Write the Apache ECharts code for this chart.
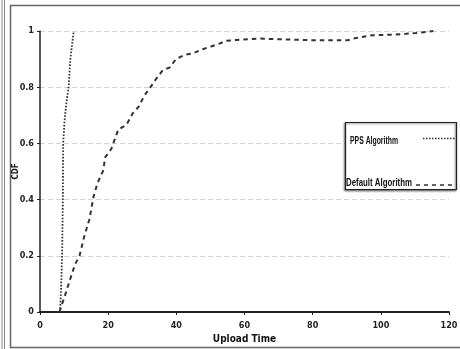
<!DOCTYPE html>
<html>
<head>
<meta charset="utf-8">
<script src="https://cdn.jsdelivr.net/npm/echarts@6/dist/echarts.min.js"></script>
<style>html,body{margin:0;padding:0;background:#fff;}#c{width:460px;height:349px;}</style>
</head>
<body>
<div id="c"></div>
<script>
var xTicks = [0, 20, 40, 60, 80, 100, 120];
var yTicks = [0, 0.2, 0.4, 0.6, 0.8, 1];
var ppsTime = [5.9, 6.2, 6.5, 6.7, 6.8, 7.2, 7.7, 8.4, 8.9, 9.9];
var ppsCdf  = [0, 0.09, 0.21, 0.40, 0.60, 0.68, 0.74, 0.80, 0.90, 1.0];
var defTime = [5.7, 7.2, 9.1, 10.3, 11.6, 13.0, 14.5, 15.7, 16.9, 18.6, 19.1, 20.9, 23.0, 25.3, 27.2, 28.9, 30.6, 32.4, 34.1, 36.0, 38.0, 39.9, 42.4, 44.8, 47.7, 50.2, 52.6, 54.6, 57.5, 64.4, 72.2, 80, 87.8, 90.2, 92.7, 97.5, 103, 107.4, 110.3, 114.2, 115.4];
var defCdf  = [0, 0.054, 0.126, 0.17, 0.20, 0.27, 0.33, 0.41, 0.46, 0.505, 0.55, 0.58, 0.65, 0.665, 0.707, 0.73, 0.77, 0.80, 0.83, 0.86, 0.87, 0.90, 0.915, 0.92, 0.935, 0.945, 0.955, 0.965, 0.968, 0.973, 0.97, 0.967, 0.967, 0.967, 0.975, 0.985, 0.987, 0.99, 0.993, 0.998, 1.0];
var seriesNames = ['PPS Algorithm', 'Default Algorithm'];

function pairs(xs, ys) { return xs.map(function (x, i) { return [x, ys[i]]; }); }

var narrow = "'Liberation Sans Narrow', 'DejaVu Sans Condensed', 'Liberation Sans', Arial";
var legendFont = "bold 11px 'Liberation Sans', Arial";
var cv = document.createElement('canvas').getContext('2d');
cv.font = legendFont;
function fitScale(text, target) { return target / cv.measureText(text).width; }

var ppsStyle = { color: '#333', width: 1.8, type: [1.6, 1.6] };
var defStyle = { color: '#333', width: 2, type: [4.5, 4] };

var chart = echarts.init(document.getElementById('c'));
var labelFont = { fontFamily: narrow, fontWeight: 'bold', fontSize: 9, color: '#222' };
chart.setOption({
  animation: false,
  backgroundColor: '#fff',
  grid: { left: 40, right: 11, top: 31, bottom: 37, outerBoundsMode: 'none', containLabel: false },
  xAxis: {
    type: 'value', min: xTicks[0], max: xTicks[xTicks.length - 1], interval: 20,
    name: 'Upload Time', nameLocation: 'middle', nameGap: 20,
    nameTextStyle: { fontFamily: narrow, fontWeight: 'bold', fontSize: 10, color: '#111' },
    axisLine: { lineStyle: { color: '#222', width: 2 } },
    axisTick: { show: true, length: 3, lineStyle: { color: '#222' } },
    axisLabel: Object.assign({ margin: 9 }, labelFont),
    splitLine: { show: false }
  },
  yAxis: {
    type: 'value', min: yTicks[0], max: yTicks[yTicks.length - 1], interval: 0.2,
    name: 'CDF', nameLocation: 'middle', nameGap: 20, nameRotate: 90, nameMoveOverlap: false,
    nameTextStyle: { fontFamily: narrow, fontWeight: 'bold', fontSize: 8, color: '#111' },
    axisLine: { show: true, lineStyle: { color: '#222', width: 1.5 } },
    axisTick: { show: true, length: 3, lineStyle: { color: '#222' } },
    axisLabel: Object.assign({ margin: 6 }, labelFont),
    splitLine: { show: true, lineStyle: { color: '#d4d4d4', type: [5, 3], width: 1 } }
  },
  legend: { show: false },
  graphic: [
    { type: 'rect', shape: { x: 10.5, y: 5.5, width: 460, height: 342 }, style: { fill: 'none', stroke: '#666', lineWidth: 1.5 }, silent: true, z: 0 },
    { type: 'line', shape: { x1: 2, y1: 0, x2: 2, y2: 349 }, style: { stroke: '#888', lineWidth: 1 }, silent: true },
    { type: 'line', shape: { x1: 4.5, y1: 0, x2: 4.5, y2: 349 }, style: { stroke: '#888', lineWidth: 1 }, silent: true },
    { type: 'rect', shape: { x: 345.5, y: 122.5, width: 111, height: 67 }, style: { fill: '#fff', stroke: '#222', lineWidth: 1.2, shadowBlur: 2, shadowOffsetX: -1, shadowOffsetY: 1, shadowColor: 'rgba(0,0,0,0.5)' }, silent: true, z: 5 },
    { type: 'text', x: 350, y: 141, scaleX: fitScale(seriesNames[0], 48), z: 6, silent: true,
      style: { text: seriesNames[0], font: legendFont, fill: '#111', verticalAlign: 'middle' } },
    { type: 'text', x: 346, y: 183, scaleX: fitScale(seriesNames[1], 66), z: 6, silent: true,
      style: { text: seriesNames[1], font: legendFont, fill: '#111', verticalAlign: 'middle' } },
    { type: 'line', shape: { x1: 423, y1: 138.5, x2: 455, y2: 138.5 }, z: 6, silent: true,
      style: { stroke: ppsStyle.color, lineWidth: 1.3, lineDash: [1.5, 1.5] } },
    { type: 'line', shape: { x1: 416, y1: 185, x2: 456, y2: 185 }, z: 6, silent: true,
      style: { stroke: defStyle.color, lineWidth: 1.6, lineDash: [4, 4] } }
  ],
  series: [
    { name: seriesNames[0], type: 'line', data: pairs(ppsTime, ppsCdf), symbol: 'none', smooth: false,
      lineStyle: ppsStyle, itemStyle: { color: '#333' }, z: 3 },
    { name: seriesNames[1], type: 'line', data: pairs(defTime, defCdf), symbol: 'none', smooth: false,
      lineStyle: defStyle, itemStyle: { color: '#333' }, z: 3 }
  ]
});
</script>
</body>
</html>
